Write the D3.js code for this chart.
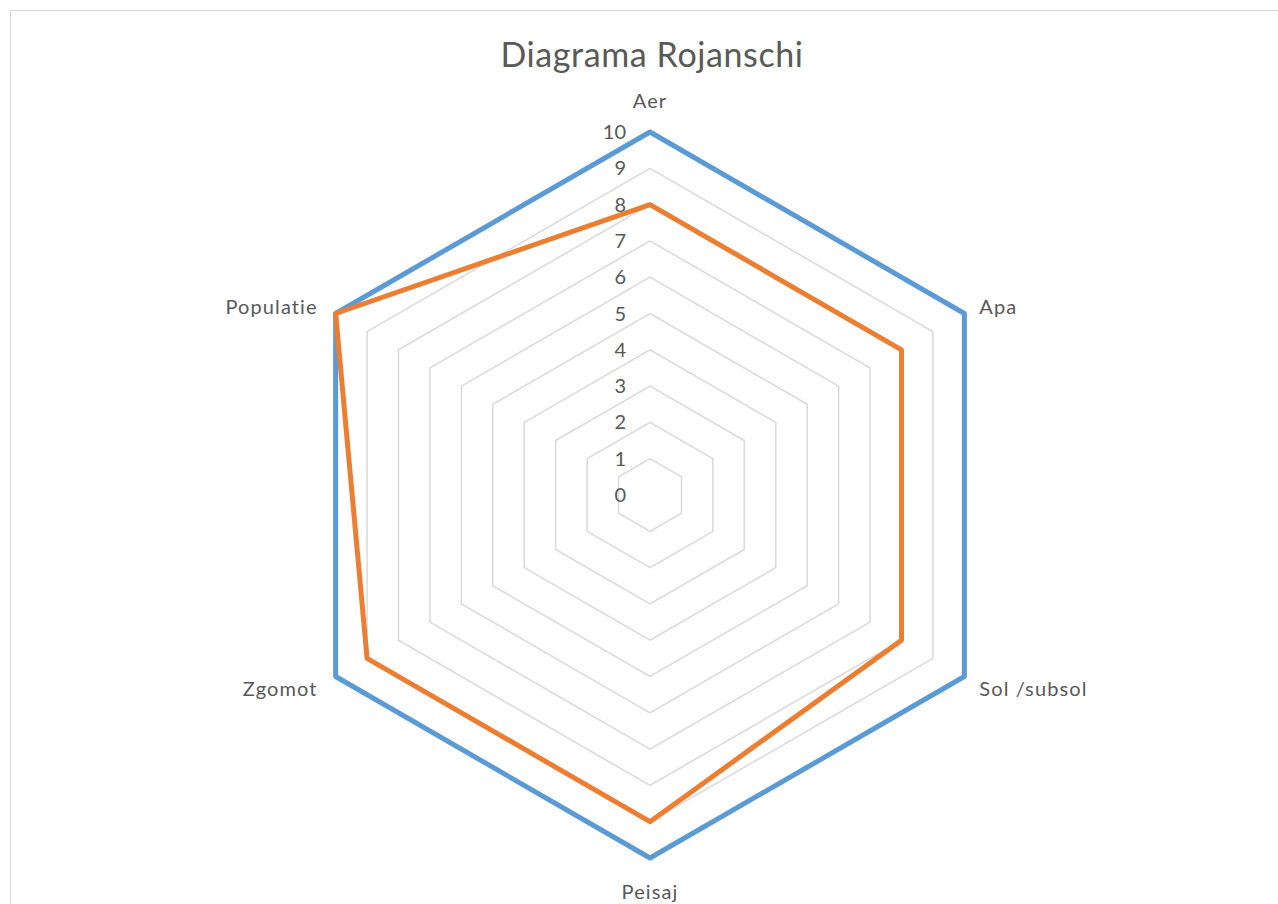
<!DOCTYPE html>
<html><head><meta charset="utf-8">
<script src="https://cdn.jsdelivr.net/npm/d3@7/dist/d3.min.js"></script>
<style>body{margin:0;background:#fff;}svg{display:block;font-family:Lato,"Open Sans",sans-serif;}</style>
</head><body>
<svg id="c" width="1278" height="904"></svg>
<script>
const categories = ["Aer","Apa","Sol /subsol","Peisaj","Zgomot","Populatie"];
const seriesMax = [10,10,10,10,10,10];
const seriesActual = [8,8,8,9,9,10];
const tickValues = [0,1,2,3,4,5,6,7,8,9,10];
const title = "Diagrama Rojanschi";

const svg = d3.select("#c");
const W = 1278, H = 904;
svg.append("rect").attr("x",10.5).attr("y",10.5).attr("width",W).attr("height",H).attr("fill","#fff").attr("stroke","#D9D9D9").attr("stroke-width",1);

const cx = 650, cy = 495, R = 363;
const r = d3.scaleLinear().domain([0,10]).range([0,R]);
const ang = d3.scalePoint().domain(categories).range([0, 2*Math.PI*(categories.length-1)/categories.length]);
const pt = (c,v)=>[cx + r(v)*Math.sin(ang(c)), cy - r(v)*Math.cos(ang(c))];

svg.append("text").attr("x",652).attr("y",67).attr("text-anchor","middle")
  .attr("font-size",34).attr("letter-spacing",0.6).attr("fill","#595959").text(title);

const line = d3.line().curve(d3.curveLinearClosed);
// gridlines
svg.append("g").selectAll("path").data(tickValues.filter(t=>t>0)).join("path")
  .attr("d",t=>line(categories.map(c=>pt(c,t))))
  .attr("fill","none").attr("stroke","#D9D9D9").attr("stroke-width",1.5);

// tick labels
svg.append("g").selectAll("text").data(tickValues).join("text")
  .attr("x",cx-24).attr("y",t=>cy - r(t)).attr("dy","0.35em")
  .attr("text-anchor","end").attr("font-size",20).attr("fill","#595959").text(t=>t);

// series
const series = [{v:seriesMax,c:"#5B9BD5"},{v:seriesActual,c:"#ED7D31"}];
svg.append("g").selectAll("path").data(series).join("path")
  .attr("d",s=>line(categories.map((c,i)=>pt(c,s.v[i]))))
  .attr("fill","none").attr("stroke",s=>s.c).attr("stroke-width",5).attr("stroke-linejoin","round");

// category labels
svg.append("g").selectAll("text").data(categories).join("text")
  .each(function(c){
    const a = ang(c), s = Math.sin(a), co = Math.cos(a);
    const [x,y] = pt(c,10);
    const t = d3.select(this);
    let anchor = Math.abs(s)<0.1 ? "middle" : (s>0 ? "start":"end");
    let dx = Math.abs(s)<0.1 ? 0 : (s>0 ? 15 : -18);
    let dy = Math.abs(s)<0.1 ? (co>0 ? -31 : 34) : (co>0 ? -7 : 12);
    t.attr("x",x+dx).attr("y",y+dy).attr("dy","0.35em").attr("text-anchor",anchor);
  })
  .attr("font-size",20).attr("letter-spacing",1.1).attr("fill","#595959").text(c=>c);
</script>
</body></html>
